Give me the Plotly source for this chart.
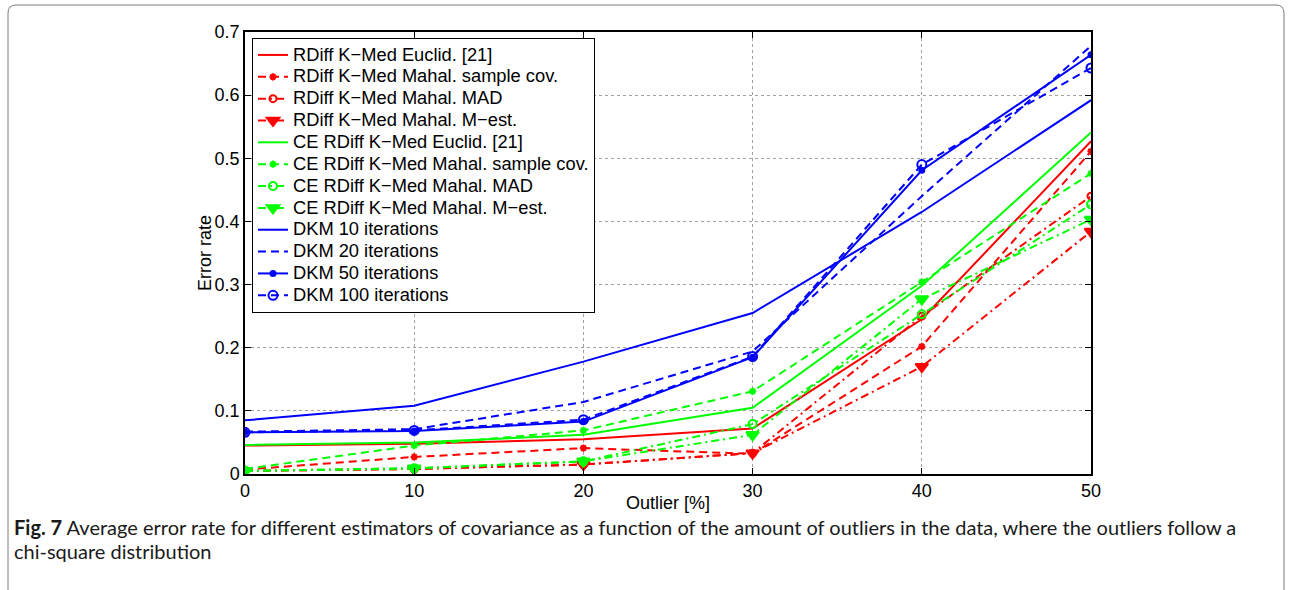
import plotly.graph_objects as go

outlier = [0, 10, 20, 30, 40, 50]

rdiff_euclid = [0.045, 0.048, 0.055, 0.072, 0.245, 0.527]
rdiff_sample = [0.007, 0.027, 0.041, 0.032, 0.202, 0.511]
rdiff_mad = [0.005, 0.008, 0.015, 0.033, 0.250, 0.440]
rdiff_mest = [0.005, 0.008, 0.015, 0.033, 0.170, 0.384]
ce_euclid = [0.046, 0.050, 0.062, 0.105, 0.298, 0.541]
ce_sample = [0.008, 0.045, 0.069, 0.131, 0.304, 0.476]
ce_mad = [0.005, 0.009, 0.020, 0.079, 0.253, 0.427]
ce_mest = [0.005, 0.009, 0.020, 0.062, 0.277, 0.403]
dkm10 = [0.085, 0.108, 0.178, 0.255, 0.415, 0.592]
dkm20 = [0.067, 0.071, 0.114, 0.194, 0.440, 0.678]
dkm50 = [0.066, 0.068, 0.083, 0.185, 0.481, 0.664]
dkm100 = [0.066, 0.069, 0.086, 0.186, 0.490, 0.643]

names = [
    "RDiff K\u2212Med Euclid. [21]",
    "RDiff K\u2212Med Mahal. sample cov.",
    "RDiff K\u2212Med Mahal. MAD",
    "RDiff K\u2212Med Mahal. M\u2212est.",
    "CE RDiff K\u2212Med Euclid. [21]",
    "CE RDiff K\u2212Med Mahal. sample cov.",
    "CE RDiff K\u2212Med Mahal. MAD",
    "CE RDiff K\u2212Med Mahal. M\u2212est.",
    "DKM 10 iterations",
    "DKM 20 iterations",
    "DKM 50 iterations",
    "DKM 100 iterations",
]
series = [rdiff_euclid, rdiff_sample, rdiff_mad, rdiff_mest,
          ce_euclid, ce_sample, ce_mad, ce_mest,
          dkm10, dkm20, dkm50, dkm100]

RED, GREEN, BLUE = "#ff0000", "#00ff00", "#0000ff"
DASH = "8px,5px"
DASHDOT = "8px,4px,2px,4px"

styles = [
    dict(color=RED, dash="solid", marker=None),
    dict(color=RED, dash=DASH, marker=dict(symbol="asterisk-open", size=6)),
    dict(color=RED, dash=DASHDOT, marker=dict(symbol="circle-open", size=7)),
    dict(color=RED, dash=DASHDOT, marker=dict(symbol="triangle-down", size=11)),
    dict(color=GREEN, dash="solid", marker=None),
    dict(color=GREEN, dash=DASH, marker=dict(symbol="asterisk-open", size=6)),
    dict(color=GREEN, dash=DASHDOT, marker=dict(symbol="circle-open", size=8)),
    dict(color=GREEN, dash=DASHDOT, marker=dict(symbol="triangle-down", size=11)),
    dict(color=BLUE, dash="solid", marker=None),
    dict(color=BLUE, dash=DASH, marker=None),
    dict(color=BLUE, dash="solid", marker=dict(symbol="circle", size=5)),
    dict(color=BLUE, dash=DASH, marker=dict(symbol="circle-open", size=9)),
]

FONT = "Liberation Sans, Arial, sans-serif"

fig = go.Figure()
for name, ys, st in zip(names, series, styles):
    kw = dict(x=outlier, y=ys,
              name=f'<span style="font-size:18.3px">{name}</span>',
              line=dict(color=st["color"], width=2, dash=st["dash"]))
    if st["marker"] is None:
        kw["mode"] = "lines"
    else:
        kw["mode"] = "lines+markers"
        m = dict(st["marker"])
        m["color"] = st["color"]
        m["line"] = dict(color=st["color"], width=2)
        kw["marker"] = m
    fig.add_trace(go.Scatter(**kw))

# Plot area in pixels: left 245, right 1091, top 32, bottom 474
L, R, T, B = 245, 1091, 32, 474
W, H = R - L, B - T


def px(x):
    return (x - L) / W


def py(y):
    return (B - y) / H


axis_common = dict(
    showline=True, linecolor="black", linewidth=1.5, mirror="ticks",
    ticks="inside", ticklen=6, tickcolor="black",
    showgrid=True, gridcolor="#a0a0a0", griddash="dot", gridwidth=1,
    zeroline=False,
    tickfont=dict(family=FONT, size=18, color="black"),
)

fig.update_xaxes(range=[0, 50], tickvals=[0, 10, 20, 30, 40, 50], **axis_common)
fig.update_yaxes(range=[0, 0.7], tickvals=[0, 0.1, 0.2, 0.3, 0.4, 0.5, 0.6, 0.7],
                 ticktext=["0", "0.1", "0.2", "0.3", "0.4", "0.5", "0.6", "0.7"],
                 **axis_common)

# rounded frame around whole figure (top corners rounded)
fx0, fx1, fy0, fy1 = 8, 1284, 5, 600
r = 8
path = (f"M {px(fx0)} {py(fy1)} L {px(fx0)} {py(fy0 + r)} "
        f"Q {px(fx0)} {py(fy0)} {px(fx0 + r)} {py(fy0)} "
        f"L {px(fx1 - r)} {py(fy0)} "
        f"Q {px(fx1)} {py(fy0)} {px(fx1)} {py(fy0 + r)} "
        f"L {px(fx1)} {py(fy1)}")
fig.add_shape(type="path", path=path, xref="paper", yref="paper",
              line=dict(color="#7a7a7a", width=1), layer="below")

annots = [
    dict(text="Outlier [%]", x=px(668), y=py(503), xanchor="center", yanchor="middle",
         font=dict(family=FONT, size=18, color="black")),
    dict(text="Error rate", x=px(205), y=py(253), xanchor="center", yanchor="middle",
         textangle=-90,
         font=dict(family=FONT, size=18, color="black")),
    dict(text="<b>Fig. 7</b> Average error rate for different estimators of covariance as a function "
              "of the amount of outliers in the data, where the outliers follow a",
         x=px(12), y=py(527), xanchor="left", yanchor="middle",
         font=dict(family="Lato, sans-serif", size=20, color="#1a1a1a")),
    dict(text="chi-square distribution",
         x=px(12), y=py(551), xanchor="left", yanchor="middle",
         font=dict(family="Lato, sans-serif", size=20, color="#1a1a1a")),
]
for a in annots:
    a.update(xref="paper", yref="paper", showarrow=False)
    fig.add_annotation(**a)

fig.update_layout(
    width=1292, height=590,
    margin=dict(l=L, r=1292 - R, t=T, b=590 - B, pad=0),
    plot_bgcolor="white", paper_bgcolor="white",
    showlegend=True,
    legend=dict(
        x=px(252), y=py(38), xanchor="left", yanchor="top",
        bgcolor="white", bordercolor="black", borderwidth=1,
        font=dict(family=FONT, size=14.5, color="black"),
        tracegroupgap=0, itemwidth=30,
    ),
)

fig.write_html("out.html", config={"displayModeBar": False},
               post_script="document.body.style.margin='0';")
